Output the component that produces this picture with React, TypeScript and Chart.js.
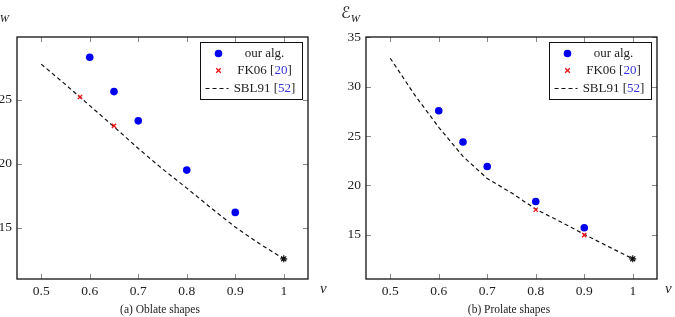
import React, { useEffect, useRef } from "react";
import { Chart, registerables } from "chart.js";

Chart.register(...registerables);

// Aspect ratio ν on the horizontal axis
const nuTicks = [0.5, 0.6, 0.7, 0.8, 0.9, 1];
const nuOurs = [0.6, 0.65, 0.7, 0.8, 0.9];
const nuSbl = [0.5, 0.55, 0.6, 0.65, 0.7, 0.75, 0.8, 0.85, 0.9, 0.95, 1];
const nuSphere = [1];
const sphereValue = [12.57];

// (a) Oblate shapes
const oblateOurs = [28.34, 25.65, 23.36, 19.51, 16.2];
const oblateFkNu = [0.58, 0.65];
const oblateFk = [25.23, 22.97];
const oblateSbl = [27.8, 26.2, 24.55, 22.9, 21.2, 19.6, 18.1, 16.55, 15.05, 13.75, 12.57];
const oblateYTicks = [15, 20, 25];

// (b) Prolate shapes
const prolateOurs = [27.58, 24.4, 21.93, 18.38, 15.71];
const prolateFkNu = [0.8, 0.9];
const prolateFk = [17.54, 14.97];
const prolateSbl = [32.9, 29.2, 25.9, 22.95, 20.7, 19.25, 17.6, 16.35, 15.05, 13.8, 12.57];
const prolateYTicks = [15, 20, 25, 30, 35];

const SERIF = "'Liberation Serif', 'DejaVu Serif', serif";
const BLUE = "#0000ee";
const RED = "#ee1111";
const REF_BLUE = "#3535d8";

const pts = (xs: number[], ys: number[]) => xs.map((x, i) => ({ x, y: ys[i] }));

// pgfplots-style frame with inward ticks on all four sides, plus the legend box
const framePlugin = {
  id: "frame",
  beforeDatasetsDraw(chart: any) {
    const { ctx, chartArea: a, scales } = chart;
    const xs = scales.x, ys = scales.y;
    ctx.save();
    ctx.strokeStyle = "#8a8a8a";
    ctx.lineWidth = 1;
    const tl = 5;
    ctx.beginPath();
    xs.ticks.forEach((t: any) => {
      const px = Math.round(xs.getPixelForValue(t.value)) + 0.5;
      ctx.moveTo(px, a.bottom); ctx.lineTo(px, a.bottom - tl);
      ctx.moveTo(px, a.top); ctx.lineTo(px, a.top + tl);
    });
    ys.ticks.forEach((t: any) => {
      const py = Math.round(ys.getPixelForValue(t.value)) + 0.5;
      ctx.moveTo(a.left, py); ctx.lineTo(a.left + tl, py);
      ctx.moveTo(a.right, py); ctx.lineTo(a.right - tl, py);
    });
    ctx.stroke();
    ctx.strokeStyle = "#111";
    ctx.lineWidth = 1.3;
    ctx.strokeRect(a.left, a.top, a.right - a.left, a.bottom - a.top);
    ctx.restore();
  },
  afterDraw(chart: any) {
    const { ctx, chartArea: a } = chart;
    const w = 102, h = 57;
    const lx = Math.round(a.right - 6 - w) + 0.5;
    const ly = Math.round(a.top + 5) + 0.5;
    ctx.save();
    ctx.fillStyle = "#fff";
    ctx.fillRect(lx, ly, w, h);
    ctx.strokeStyle = "#111";
    ctx.lineWidth = 1;
    ctx.strokeRect(lx, ly, w, h);

    const mx = lx + 18;
    const tx = lx + 64;
    const rows = [ly + 11, ly + 28, ly + 46];

    // our alg. marker
    ctx.fillStyle = BLUE;
    ctx.beginPath();
    ctx.arc(mx, rows[0], 3.8, 0, Math.PI * 2);
    ctx.fill();
    // FK06 marker
    ctx.strokeStyle = RED;
    ctx.lineWidth = 1.3;
    ctx.beginPath();
    ctx.moveTo(mx - 2.3, rows[1] - 2.3); ctx.lineTo(mx + 2.3, rows[1] + 2.3);
    ctx.moveTo(mx - 2.3, rows[1] + 2.3); ctx.lineTo(mx + 2.3, rows[1] - 2.3);
    ctx.stroke();
    // SBL91 dashed sample
    ctx.strokeStyle = "#111";
    ctx.lineWidth = 1.2;
    ctx.setLineDash([4, 3]);
    ctx.beginPath();
    ctx.moveTo(lx + 5, rows[2]); ctx.lineTo(lx + 28, rows[2]);
    ctx.stroke();
    ctx.setLineDash([]);

    ctx.font = `13px ${SERIF}`;
    ctx.textBaseline = "middle";
    const drawParts = (parts: [string, string][], cy: number) => {
      const total = parts.reduce((s, p) => s + ctx.measureText(p[0]).width, 0);
      let x = tx - total / 2;
      ctx.textAlign = "left";
      parts.forEach(([txt, col]) => {
        ctx.fillStyle = col;
        ctx.fillText(txt, x, cy);
        x += ctx.measureText(txt).width;
      });
    };
    drawParts([["our alg.", "#222"]], rows[0]);
    drawParts([["FK06 [", "#222"], ["20", REF_BLUE], ["]", "#222"]], rows[1]);
    drawParts([["SBL91 [", "#222"], ["52", REF_BLUE], ["]", "#222"]], rows[2]);
    ctx.restore();
  },
};

type PanelProps = {
  left: number;
  width: number;
  axisWidth: number;
  padRight: number;
  yMin: number;
  yMax: number;
  yTicks: number[];
  ours: number[];
  fkNu: number[];
  fk: number[];
  sbl: number[];
};

function Panel(p: PanelProps) {
  const ref = useRef<HTMLCanvasElement>(null);
  useEffect(() => {
    if (!ref.current) return;
    const chart = new Chart(ref.current, {
      type: "scatter",
      data: {
        datasets: [
          {
            label: "SBL91",
            data: pts(nuSbl, p.sbl),
            showLine: true,
            borderColor: "#111",
            borderWidth: 1.2,
            borderDash: [4, 3],
            pointRadius: 0,
            fill: false,
            tension: 0,
            order: 3,
          },
          {
            label: "sphere",
            data: pts(nuSphere, sphereValue),
            pointStyle: "star",
            pointRadius: 3.5,
            borderColor: "#111",
            backgroundColor: "#111",
            borderWidth: 1.2,
            order: 2,
          },
          {
            label: "FK06",
            data: pts(p.fkNu, p.fk),
            pointStyle: "crossRot",
            pointRadius: 3,
            borderColor: RED,
            borderWidth: 1.3,
            order: 1,
          },
          {
            label: "our alg.",
            data: pts(nuOurs, p.ours),
            pointStyle: "circle",
            pointRadius: 3.8,
            backgroundColor: BLUE,
            borderColor: BLUE,
            borderWidth: 0,
            order: 0,
          },
        ],
      },
      options: {
        animation: false,
        responsive: false,
        devicePixelRatio: 1,
        layout: { padding: { top: 37, right: p.padRight, bottom: 0, left: 0 } },
        plugins: { legend: { display: false }, tooltip: { enabled: false } },
        scales: {
          x: {
            type: "linear",
            min: 0.45,
            max: 1.05,
            afterBuildTicks: (s: any) => {
              s.ticks = nuTicks.map((v) => ({ value: v }));
            },
            afterFit: (s: any) => {
              s.height = 38;
            },
            grid: { display: false, drawTicks: false },
            border: { display: false },
            ticks: {
              color: "#222",
              padding: 4,
              font: { family: SERIF, size: 13.5 },
              callback: (v: any) => (v === 1 ? "1" : Number(v).toFixed(1)),
            },
          },
          y: {
            type: "linear",
            min: p.yMin,
            max: p.yMax,
            afterBuildTicks: (s: any) => {
              s.ticks = p.yTicks.map((v) => ({ value: v }));
            },
            afterFit: (s: any) => {
              s.width = p.axisWidth;
            },
            grid: { display: false, drawTicks: false },
            border: { display: false },
            ticks: {
              color: "#222",
              padding: 5,
              font: { family: SERIF, size: 13.5 },
              callback: (v: any) => String(v),
            },
          },
        },
      },
      plugins: [framePlugin],
    } as any);
    return () => chart.destroy();
  }, []);
  return (
    <canvas
      ref={ref}
      width={p.width}
      height={317}
      style={{ position: "absolute", left: p.left, top: 0, width: p.width, height: 317 }}
    />
  );
}

const textBase: React.CSSProperties = {
  position: "absolute",
  fontFamily: SERIF,
  color: "#222",
  whiteSpace: "nowrap",
  lineHeight: 1,
};

function AxisTitle({ left, top }: { left: number; top: number }) {
  return (
    <div style={{ ...textBase, left, top, fontSize: 16 }}>
      <span style={{ fontFamily: "'DejaVu Sans', 'Noto Sans', sans-serif", fontStyle: "normal" }}>ℰ</span>
      <span style={{ fontStyle: "italic", fontSize: 11, position: "relative", top: 4, marginLeft: 0 }}>W</span>
    </div>
  );
}

export default function App() {
  return (
    <div
      style={{
        position: "fixed",
        left: 0,
        top: 0,
        width: 675,
        height: 317,
        background: "#fff",
        overflow: "hidden",
      }}
    >
      <Panel
        left={0}
        width={335}
        axisWidth={17}
        padRight={27}
        yMin={10.99}
        yMax={29.92}
        yTicks={oblateYTicks}
        ours={oblateOurs}
        fkNu={oblateFkNu}
        fk={oblateFk}
        sbl={oblateSbl}
      />
      <Panel
        left={335}
        width={340}
        axisWidth={31}
        padRight={18}
        yMin={10.52}
        yMax={35.05}
        yTicks={prolateYTicks}
        ours={prolateOurs}
        fkNu={prolateFkNu}
        fk={prolateFk}
        sbl={prolateSbl}
      />
      <AxisTitle left={-10} top={5} />
      <AxisTitle left={341} top={5} />
      <div style={{ ...textBase, left: 320, top: 281, fontSize: 15, fontStyle: "italic" }}>ν</div>
      <div style={{ ...textBase, left: 665, top: 281, fontSize: 15, fontStyle: "italic" }}>ν</div>
      <div style={{ ...textBase, left: 160, top: 310, fontSize: 11.5, transform: "translate(-50%, -50%)" }}>
        (a) Oblate shapes
      </div>
      <div style={{ ...textBase, left: 509, top: 310, fontSize: 11.5, transform: "translate(-50%, -50%)" }}>
        (b) Prolate shapes
      </div>
    </div>
  );
}
